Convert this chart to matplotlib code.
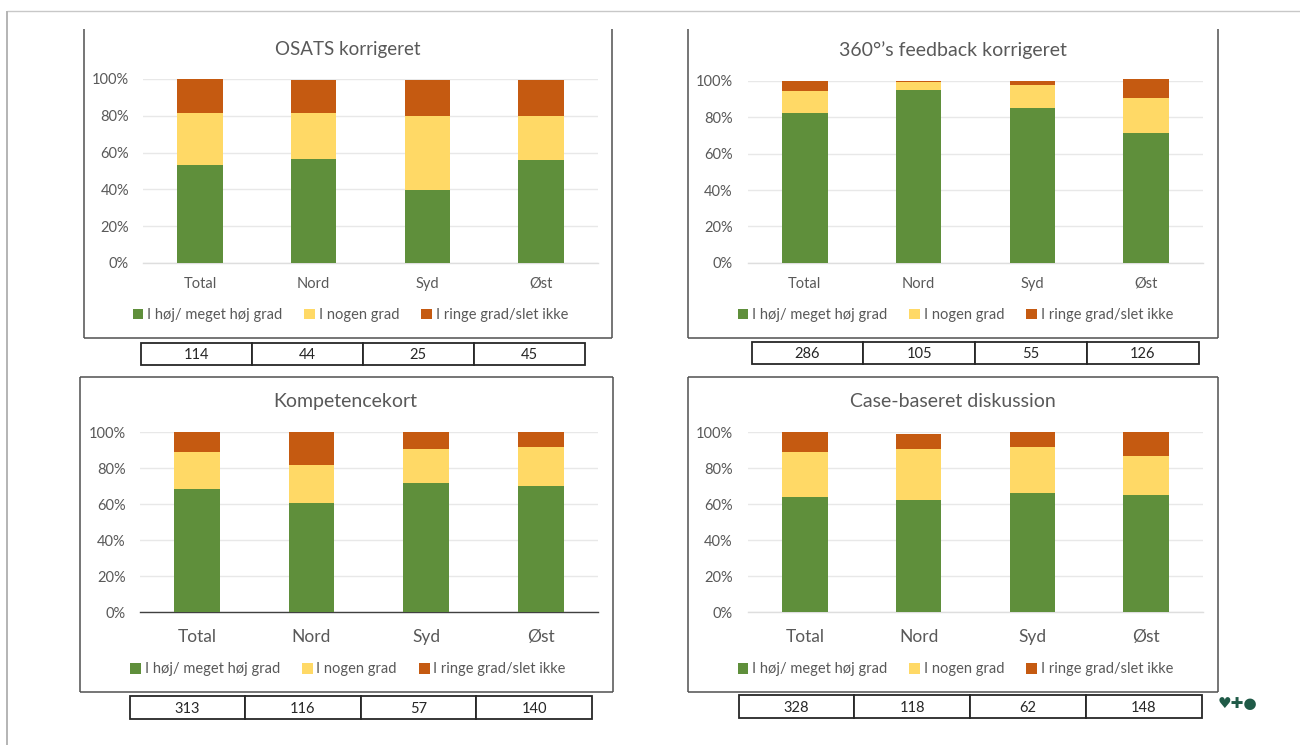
import matplotlib
matplotlib.use("Agg")
import matplotlib.pyplot as plt
from matplotlib.lines import Line2D
from matplotlib.patches import Patch
import numpy as np

plt.rcParams['font.family'] = ['Lato', 'DejaVu Sans']

regions = ['Total', 'Nord', 'Syd', 'Øst']
series_names = ['I høj/ meget høj grad', 'I nogen grad', 'I ringe grad/slet ikke']
yticks = [0, 20, 40, 60, 80, 100]

osats_hoj = [53.3, 56.7, 39.7, 55.8]
osats_nogen = [28.0, 24.6, 40.2, 24.1]
osats_ringe = [18.7, 18.3, 19.7, 19.7]
osats_n = [114, 44, 25, 45]

feedback_hoj = [82.2, 95.0, 85.2, 71.1]
feedback_nogen = [12.1, 4.3, 12.6, 19.2]
feedback_ringe = [5.7, 0.7, 2.2, 10.8]
feedback_n = [286, 105, 55, 126]

kompetence_hoj = [68.2, 60.8, 71.7, 69.9]
kompetence_nogen = [20.9, 20.9, 19.1, 21.8]
kompetence_ringe = [10.9, 18.3, 9.2, 8.3]
kompetence_n = [313, 116, 57, 140]

case_hoj = [63.8, 62.1, 66.2, 65.2]
case_nogen = [25.3, 28.7, 25.5, 21.7]
case_ringe = [10.9, 7.9, 8.3, 13.1]
case_n = [328, 118, 62, 148]

COLORS = ['#5F8F3B', '#FFD966', '#C55A11']
TXT = '#595959'
W, H = 1300, 745
fig = plt.figure(figsize=(W / 100, H / 100), dpi=100, facecolor='white')


def fx(x):
    return x / W


def fy(y):
    return 1 - y / H


def rect(x0, y0, x1, y1):
    return [fx(x0), fy(y1), (x1 - x0) / W, (y1 - y0) / H]


def seg(x0, y0, x1, y1, color, lw):
    fig.add_artist(Line2D([fx(x0), fx(x1)], [fy(y0), fy(y1)], color=color, lw=lw,
                          solid_capstyle='butt'))


# page edge
seg(6.5, 10.5, 1300, 10.5, '#c8c8c8', 1.0)
seg(6.5, 10.5, 6.5, 745, '#b4b4b4', 1.4)

panels = [
    dict(title='OSATS korrigeret', v=(osats_hoj, osats_nogen, osats_ringe), n=osats_n,
         frame=(83.5, 29, 612, 338), closed=False, axes=(143, 79, 598, 263),
         table=(141, 343, 584.5, 364.5), title_xy=(348, 50), title_fs=13.5, tick=10.5, cat=10.5,
         cat_y=285, leg=(132.5, 315), base='#dedede', ylab=130),
    dict(title='360°’s feedback korrigeret', v=(feedback_hoj, feedback_nogen, feedback_ringe), n=feedback_n,
         frame=(687.5, 29, 1218, 338), closed=False, axes=(748, 80.8, 1203, 262.8),
         table=(751.5, 341.5, 1198.5, 364), title_xy=(952.5, 50.5), title_fs=14, tick=10.5, cat=10.5,
         cat_y=285, leg=(737.5, 315), base='#dedede', ylab=734),
    dict(title='Kompetencekort', v=(kompetence_hoj, kompetence_nogen, kompetence_ringe), n=kompetence_n,
         frame=(80, 377, 612.5, 691.5), closed=True, axes=(139.5, 432, 598, 612.3),
         table=(129.5, 695.5, 592, 719), title_xy=(345.5, 401.5), title_fs=14, tick=10.5, cat=12.5,
         cat_y=637, leg=(130, 669.5), base='#404040', ylab=126.5),
    dict(title='Case-baseret diskussion', v=(case_hoj, case_nogen, case_ringe), n=case_n,
         frame=(687.5, 377, 1218, 691.5), closed=True, axes=(748, 432, 1203, 612.3),
         table=(738.5, 694.5, 1201.5, 717.5), title_xy=(952.5, 401.5), title_fs=14, tick=10.5, cat=12.5,
         cat_y=637, leg=(737.5, 669.5), base='#dedede', ylab=734),
]

for p in panels:
    x0, y0, x1, y1 = p['frame']
    fc = '#505050'
    seg(x0, y0, x0, y1, fc, 1.1)
    seg(x1, y0, x1, y1, fc, 1.1)
    seg(x0, y1, x1, y1, fc, 1.1)
    if p['closed']:
        seg(x0, y0, x1, y0, fc, 1.1)

    ax = fig.add_axes(rect(*p['axes']))
    ax.set_facecolor('none')
    pos = np.arange(len(regions))
    bottom = np.zeros(len(regions))
    handles = []
    for vals, col, name in zip(p['v'], COLORS, series_names):
        ax.bar(pos, vals, 0.4, bottom=bottom, color=col, label=name, clip_on=False, zorder=3)
        bottom += np.array(vals)
        handles.append(Patch(facecolor=col, label=name))
    ax.set_xlim(-0.5, 3.5)
    ax.set_ylim(0, 100)
    ax.set_yticks(yticks)
    ax.set_yticklabels([f'{t}%' for t in yticks], fontsize=p['tick'], color=TXT)
    ax.set_xticks(pos)
    ax.set_xticklabels(regions, fontsize=p['cat'], color=TXT)
    ax.tick_params(axis='both', length=0)
    ax.tick_params(axis='y', pad=p['axes'][0] - p['ylab'] - 3)
    ax.tick_params(axis='x', pad=(p['cat_y'] - p['axes'][3] - 8) * 0.72)
    ax.grid(axis='y', color='#e8e8e8', lw=1.0, zorder=0)
    ax.set_axisbelow(True)
    for s in ['top', 'left', 'right']:
        ax.spines[s].set_visible(False)
    ax.spines['bottom'].set_color(p['base'])
    ax.spines['bottom'].set_linewidth(1.0)

    fig.text(fx(p['title_xy'][0]), fy(p['title_xy'][1]), p['title'], ha='center', va='center',
             fontsize=p['title_fs'], color=TXT)

    ax.legend(handles=handles, ncol=3, loc='center left',
              bbox_to_anchor=(fx(p['leg'][0]), fy(p['leg'][1])), bbox_transform=fig.transFigure,
              frameon=False, fontsize=10.5, borderpad=0, borderaxespad=0,
              handlelength=0.75, handleheight=0.75, handletextpad=0.25, columnspacing=1.5,
              labelcolor=TXT)

    tax = fig.add_axes(rect(*p['table']))
    tax.axis('off')
    tbl = tax.table(cellText=[[str(n) for n in p['n']]], cellLoc='center', bbox=[0, 0, 1, 1])
    tbl.auto_set_font_size(False)
    for c in tbl.get_celld().values():
        c.set_edgecolor('#262626')
        c.set_linewidth(1.3)
        c.set_text_props(fontsize=10.5, color='#262626', va='center_baseline')

fig.text(fx(1237), fy(704), '♥✚●', ha='center', va='center', fontsize=11, color='#1F5A47',
         family=['DejaVu Sans'], fontweight='bold')

fig.savefig('out.png', dpi=100)
